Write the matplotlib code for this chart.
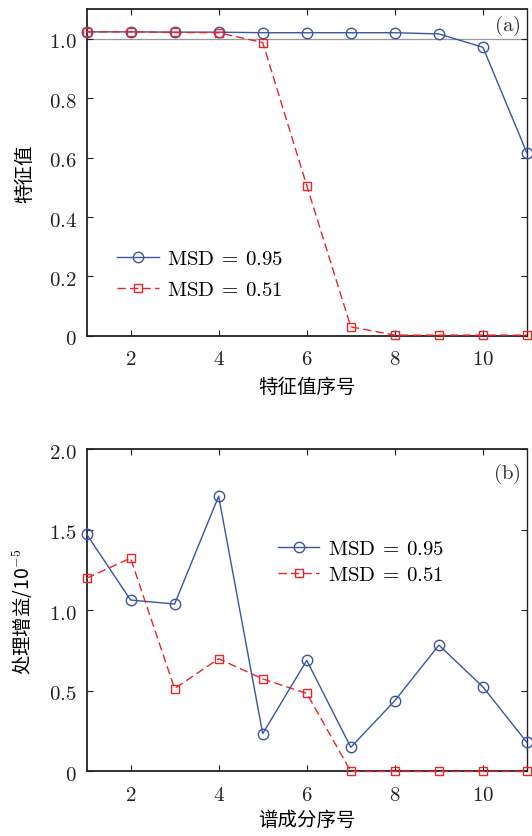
import matplotlib
matplotlib.use('Agg')
import matplotlib.pyplot as plt
from matplotlib.ticker import FuncFormatter

plt.rcParams['font.family'] = ['Noto Sans CJK SC', 'DejaVu Sans']
plt.rcParams['mathtext.fontset'] = 'cm'

# data
idx = [1, 2, 3, 4, 5, 6, 7, 8, 9, 10, 11]
eig_095 = [1.024, 1.024, 1.023, 1.023, 1.021, 1.021, 1.021, 1.021, 1.017, 0.972, 0.615]
eig_051 = [1.024, 1.024, 1.022, 1.021, 0.988, 0.506, 0.030, 0.002, 0.002, 0.002, 0.002]
gain_095 = [1.475, 1.065, 1.04, 1.71, 0.235, 0.69, 0.15, 0.44, 0.785, 0.525, 0.18]
gain_051 = [1.20, 1.325, 0.515, 0.70, 0.575, 0.485, 0.0, 0.0, 0.0, 0.0, 0.0]
xticks = [2, 4, 6, 8, 10]
yticks_a = [0, 0.2, 0.4, 0.6, 0.8, 1.0]
yticks_b = [0, 0.5, 1.0, 1.5, 2.0]

blue = '#3b54a6'
red = '#e8262a'


def fmt(v, pos):
    if v == 0:
        return '$0$'
    return f'${v:.1f}$'


def intfmt(v, pos):
    return f'${int(v)}$'


fig = plt.figure(figsize=(5.32, 8.37), dpi=100)
ax1 = fig.add_axes([0.1626, 0.5977, 0.828, 0.390])
ax2 = fig.add_axes([0.1626, 0.0771, 0.828, 0.3847])

lab1 = r'$\mathrm{MSD}\:=\:0.95$'
lab2 = r'$\mathrm{MSD}\:=\:0.51$'

# (a) eigenvalues
ax1.axhline(1.0, color='#999999', lw=0.9, zorder=1)
ax1.plot(idx, eig_095, color=blue, lw=1.0, marker='o', ms=7.5, mfc='none',
         mec=blue, mew=1.0, label=lab1, clip_on=False, zorder=3)
ax1.plot(idx, eig_051, color=red, lw=1.0, ls=(0, (6, 3)), marker='s', ms=5.5,
         mfc='none', mec=red, mew=1.0, label=lab2, clip_on=False, zorder=4)
ax1.set_xlim(1, 11)
ax1.set_ylim(0, 1.1)
ax1.set_yticks(yticks_a)
ax1.set_xlabel('特征值序号', fontsize=14, labelpad=5)
ax1.set_ylabel('特征值', fontsize=14, labelpad=10)
ax1.text(0.985, 0.99, r'$\mathrm{(a)}$', transform=ax1.transAxes,
         ha='right', va='top', fontsize=15, color='#333333')
ax1.legend(loc='upper left', bbox_to_anchor=(0.07, 0.272), frameon=False,
           fontsize=15, handlelength=2.0, handletextpad=0.4, labelspacing=0.45,
           borderpad=0, borderaxespad=0)

# (b) processing gain
ax2.plot(idx, gain_095, color=blue, lw=1.0, marker='o', ms=7.5, mfc='none',
         mec=blue, mew=1.0, label=lab1, clip_on=False, zorder=3)
ax2.plot(idx, gain_051, color=red, lw=1.0, ls=(0, (6, 3)), marker='s', ms=5.5,
         mfc='none', mec=red, mew=1.0, label=lab2, clip_on=False, zorder=4)
ax2.set_xlim(1, 11)
ax2.set_ylim(0, 2.0)
ax2.set_yticks(yticks_b)
ax2.set_xlabel('谱成分序号', fontsize=14, labelpad=3)
ax2.set_ylabel(r'处理增益/10$^{-5}$', fontsize=14, labelpad=10)
ax2.text(0.985, 0.965, r'$\mathrm{(b)}$', transform=ax2.transAxes,
         ha='right', va='top', fontsize=15, color='#333333')
ax2.legend(loc='upper left', bbox_to_anchor=(0.434, 0.728), frameon=False,
           fontsize=15, handlelength=2.0, handletextpad=0.4, labelspacing=0.2,
           borderpad=0, borderaxespad=0)

for ax in (ax1, ax2):
    ax.set_xticks(xticks)
    ax.xaxis.set_major_formatter(FuncFormatter(intfmt))
    ax.yaxis.set_major_formatter(FuncFormatter(fmt))
    ax.tick_params(direction='in', top=True, right=True, length=4, width=0.8,
                   labelsize=15, colors='#222222', pad=7)
    ax.tick_params(axis='x', pad=8)
    for s in ax.spines.values():
        s.set_linewidth(1.3)
        s.set_color('#222222')
    ax.spines['right'].set_linewidth(1.0)

fig.savefig('out.png', dpi=100)
